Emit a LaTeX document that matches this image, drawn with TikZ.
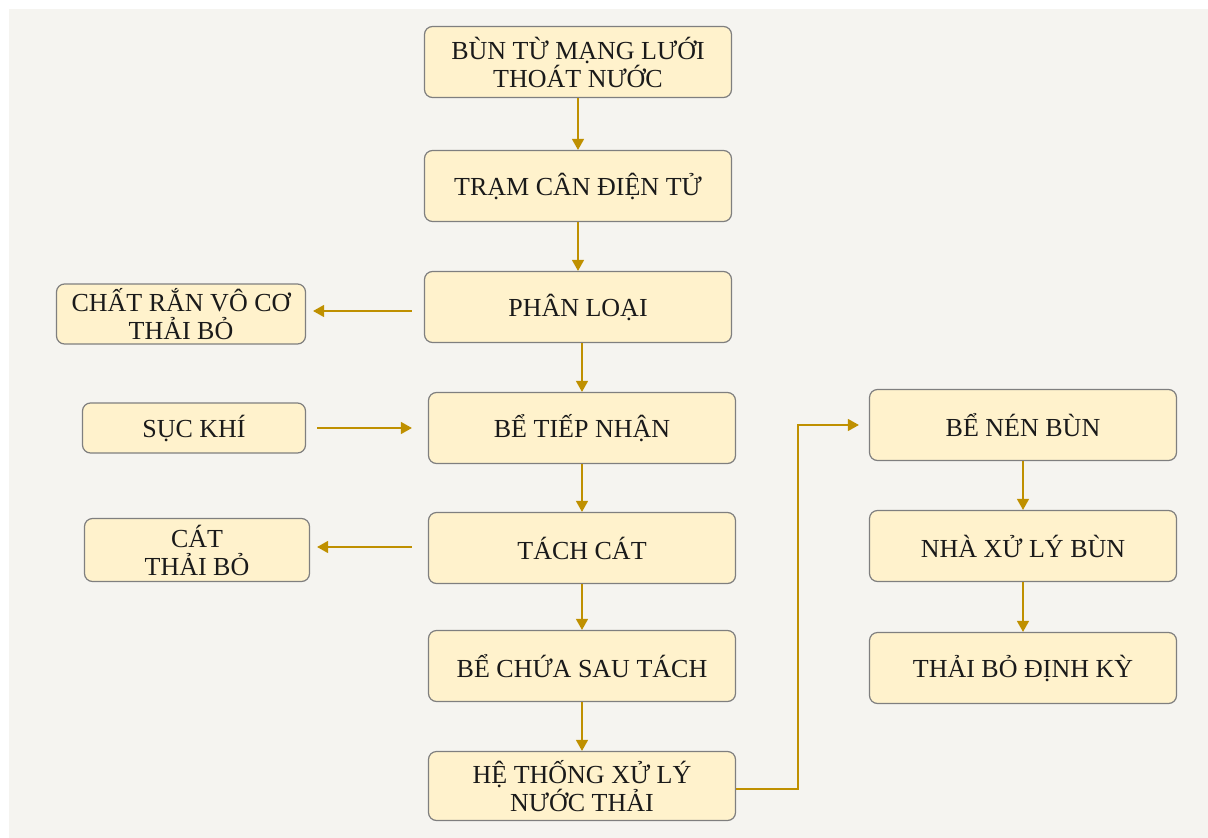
\documentclass[tikz,border=0pt]{standalone}
\usepackage{fontspec}
\setmainfont{Liberation Serif}
\usetikzlibrary{arrows.meta}
\definecolor{bg}{HTML}{F5F4F0}
\definecolor{boxfill}{HTML}{FFF2CC}
\definecolor{boxline}{HTML}{7F7F7F}
\definecolor{arr}{HTML}{BF9000}
\definecolor{txt}{HTML}{1A1A1A}
\begin{document}
\begin{tikzpicture}[x=1pt,y=-1pt,
  box/.style={draw=boxline, line width=1.2pt, fill=boxfill, rounded corners=8pt,
    align=center, text=txt, font=\fontsize{26}{28}\selectfont, inner sep=0pt},
  mainbox/.style={box, minimum width=307pt, minimum height=71pt},
  flow/.style={draw=arr, line width=1.4pt, -{Triangle[length=11pt,width=12pt]}}]
\useasboundingbox (0,0) rectangle (1208,838);
\fill[white] (0,0) rectangle (1208,838);
\fill[bg] (9,9) rectangle (1208,838);

\node[mainbox] (n1) at (578,62) {BÙN TỪ MẠNG LƯỚI\\THOÁT NƯỚC};
\node[mainbox] (n2) at (578,186) {TRẠM CÂN ĐIỆN TỬ};
\node[mainbox] (n3) at (578,307) {PHÂN LOẠI};
\node[box, minimum width=249pt, minimum height=60pt] (n4) at (181,314) {CHẤT RẮN VÔ CƠ\\THẢI BỎ};
\node[box, minimum width=223pt, minimum height=50pt] (n5) at (194,428) {SỤC KHÍ};
\node[mainbox] (n6) at (582,428) {BỂ TIẾP NHẬN};
\node[box, minimum width=225pt, minimum height=63pt] (n7) at (197,550) {CÁT\\THẢI BỎ};
\node[mainbox] (n8) at (582,548) {TÁCH CÁT};
\node[mainbox] (n9) at (582,666) {BỂ CHỨA SAU TÁCH};
\node[mainbox, minimum height=69pt] (n10) at (582,786) {HỆ THỐNG XỬ LÝ\\NƯỚC THẢI};
\node[mainbox] (n11) at (1023,425) {BỂ NÉN BÙN};
\node[mainbox] (n12) at (1023,546) {NHÀ XỬ LÝ BÙN};
\node[mainbox] (n13) at (1023,668) {THẢI BỎ ĐỊNH KỲ};

\draw[flow] (n1) -- (n2);
\draw[flow] (n2) -- (n3);
\draw[flow] (n3.south -| n6) -- (n6.north);
\draw[flow] (n6) -- (n8);
\draw[flow] (n8) -- (n9);
\draw[flow] (n9) -- (n10);
\draw[flow, shorten <=12pt, shorten >=7pt] (n3.west |- 0,311) -- (n4.east |- 0,311);
\draw[flow, shorten <=11pt, shorten >=16pt] (n5.east) -- (n6.west |- n5.east);
\draw[flow, shorten <=16pt, shorten >=7pt] (n8.west |- 0,547) -- (n7.east |- 0,547);
\draw[flow, shorten >=10pt] (n10.east |- 0,789) -- (798,789) |- (n11.west);
\draw[flow] (n11) -- (n12);
\draw[flow] (n12) -- (n13);
\end{tikzpicture}
\end{document}
